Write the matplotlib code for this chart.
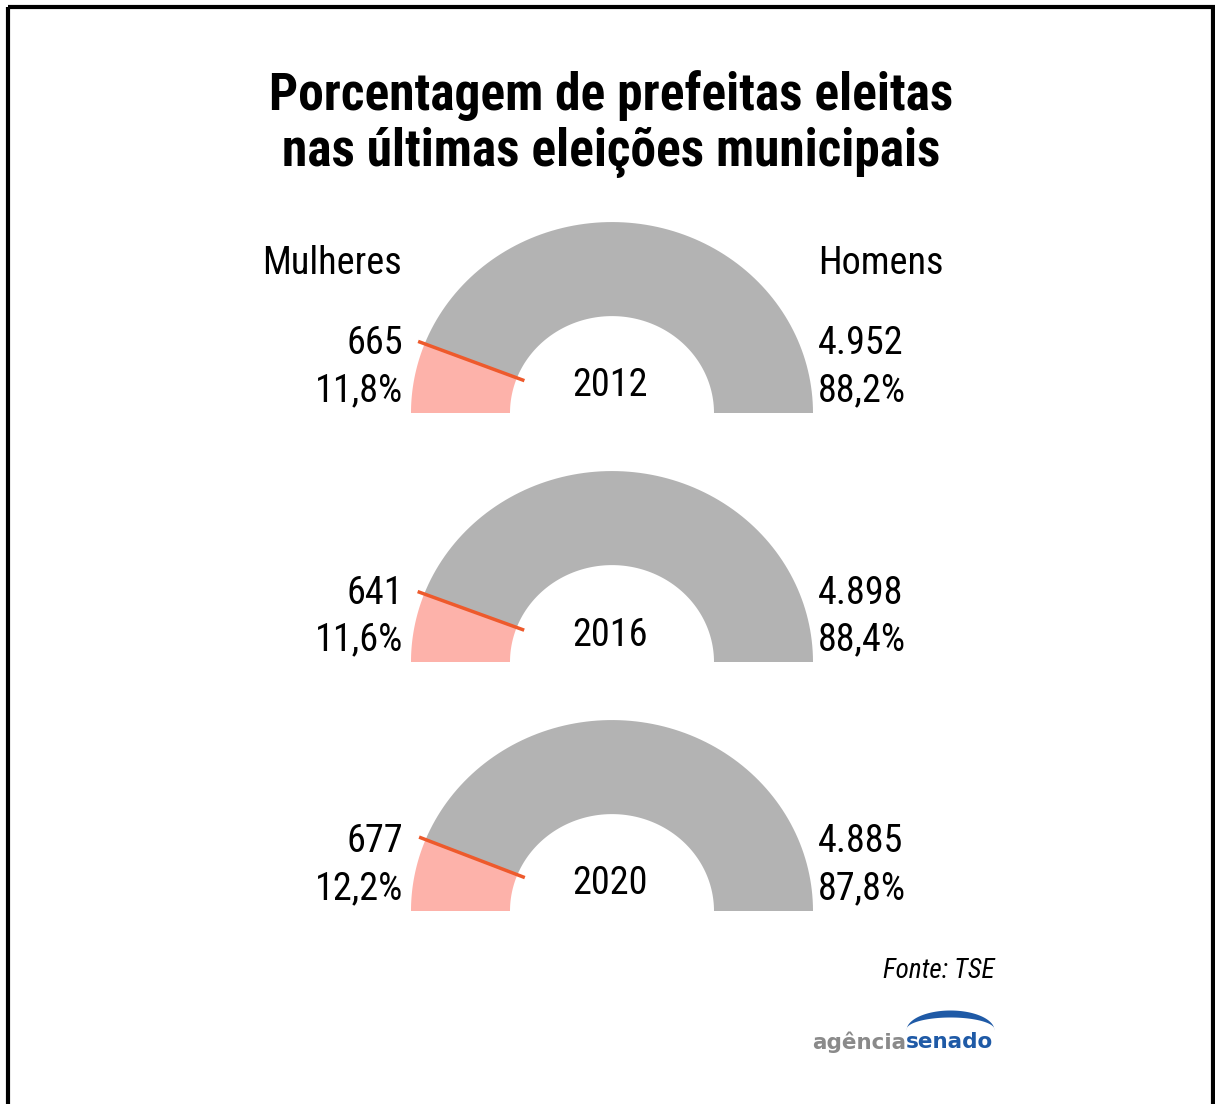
import numpy as np
import matplotlib
matplotlib.use('Agg')
import matplotlib.pyplot as plt
from matplotlib.patches import Polygon, Rectangle

# data
years = ['2012', '2016', '2020']
women = ['665', '641', '677']
men = ['4.952', '4.898', '4.885']
women_pct = [11.8, 11.6, 12.2]
men_pct = [88.2, 88.4, 87.8]

GRAY = '#b3b3b3'
PINK = '#fdb2aa'
ORANGE = '#ee5a2c'
FONT = ['Roboto Condensed', 'DejaVu Sans']

fig = plt.figure(figsize=(12.15, 11.04), dpi=100)
ax = fig.add_axes([0, 0, 1, 1])
ax.set_xlim(0, 1215)
ax.set_ylim(1104, 0)
ax.axis('off')

# frame
ax.add_patch(Rectangle((8, 7), 1205, 1120, fill=False, lw=3, ec='black'))

ax.text(611, 124, 'Porcentagem de prefeitas eleitas\nnas últimas eleições municipais',
        ha='center', va='center', fontsize=37, fontweight='bold', family=FONT,
        linespacing=1.15)


def ring(cx, cy, a0, a1, color):
    # half-ring segment between angles (deg), slightly squashed vertically
    ro, ri, sq = 201, 102, 0.95
    t = np.radians(np.linspace(a0, a1, 100))
    outer = np.column_stack([cx + ro * np.cos(t), cy - ro * sq * np.sin(t)])
    inner = np.column_stack([cx + ri * np.cos(t[::-1]), cy - ri * sq * np.sin(t[::-1])])
    ax.add_patch(Polygon(np.vstack([outer, inner]), closed=True, fc=color, ec='none'))


cx = 612
fs = 27.5
for i, yr in enumerate(years):
    cy = 413 + i * 249
    split = 180 - women_pct[i] / 100 * 180
    ring(cx, cy, 0, split, GRAY)
    ring(cx, cy, split, 180, PINK)
    t = np.radians(split)
    ax.plot([cx + 208 * np.cos(t), cx + 94 * np.cos(t)],
            [cy - 208 * 0.95 * np.sin(t), cy - 94 * 0.95 * np.sin(t)],
            color=ORANGE, lw=2.5, solid_capstyle='butt')
    ax.text(610, cy - 27, yr, ha='center', va='center', fontsize=fs, family=FONT)
    ax.text(403, cy - 69, women[i], ha='right', va='center', fontsize=fs, family=FONT)
    ax.text(403, cy - 22, f'{women_pct[i]:.1f}%'.replace('.', ','), ha='right',
            va='center', fontsize=fs, family=FONT)
    ax.text(818, cy - 69, men[i], ha='left', va='center', fontsize=fs, family=FONT)
    ax.text(818, cy - 22, f'{men_pct[i]:.1f}%'.replace('.', ','), ha='left',
            va='center', fontsize=fs, family=FONT)

ax.text(262, 264, 'Mulheres', ha='left', va='center', fontsize=fs, family=FONT)
ax.text(818, 264, 'Homens', ha='left', va='center', fontsize=fs, family=FONT)

ax.text(995, 971, 'Fonte: TSE', ha='right', va='center', fontsize=19.5,
        style='italic', family=FONT)

# logo
ax.text(906, 1042, 'agência', ha='right', va='center', fontsize=15.5,
        color='#8a8a8a', family=['DejaVu Sans'], fontweight='bold')
ax.text(906, 1042, 'senado', ha='left', va='center', fontsize=15.5,
        color='#1f5aa6', family=['DejaVu Sans'], fontweight='bold')
t = np.linspace(0, np.pi, 60)
ax.fill_between(950 + 44 * np.cos(t), 1030 - 20 * np.sin(t), 1030 - 12 * np.sin(t) - 1,
                color='#1f5aa6', lw=0)

fig.savefig('out.png', dpi=100, facecolor='white')
